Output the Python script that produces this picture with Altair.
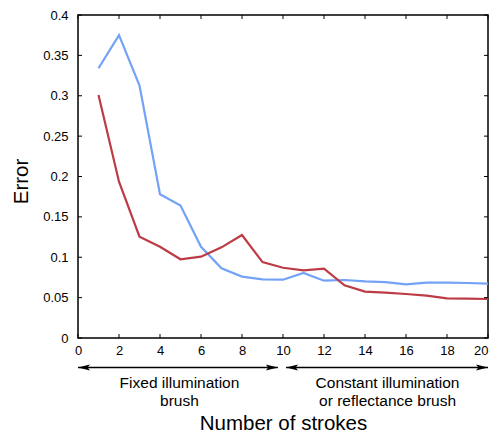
import altair as alt
import pandas as pd

# ---- data ----
strokes = list(range(1, 21))
err_blue = [0.334, 0.375, 0.3125, 0.178, 0.164, 0.113, 0.0863, 0.076, 0.0725, 0.0722,
            0.0805, 0.071, 0.0718, 0.0702, 0.0693, 0.0665, 0.0685, 0.0685, 0.0681, 0.0673]
err_red = [0.301, 0.1936, 0.1255, 0.113, 0.0975, 0.1007, 0.1123, 0.1276, 0.094, 0.087,
           0.0838, 0.0858, 0.0652, 0.0574, 0.0561, 0.0545, 0.0524, 0.0491, 0.0487, 0.0483]
series_names = ["Series A", "Series B"]
series_colors = ["#74a2f6", "#bd3b45"]

x_ticks = [0, 2, 4, 6, 8, 10, 12, 14, 16, 18, 20]
y_ticks = [0, 0.05, 0.1, 0.15, 0.2, 0.25, 0.3, 0.35, 0.4]

phase_labels = ["Fixed illumination\nbrush", "Constant illumination\nor reflectance brush"]
phase_centers = [4.95, 15.1]
arrow_start = [0.0, 10.15]
arrow_end = [9.75, 20.0]

FONT = "Liberation Sans"
W, H = 410, 323

df = pd.DataFrame({
    "strokes": strokes * 2,
    "error": err_blue + err_red,
    "series": [series_names[0]] * len(strokes) + [series_names[1]] * len(strokes),
})

xscale = alt.Scale(domain=[0, 20], nice=False, zero=False)
yscale = alt.Scale(domain=[0, 0.4], nice=False)

lines = alt.Chart(df).mark_line(strokeWidth=2.2).encode(
    x=alt.X("strokes:Q", scale=xscale,
            axis=alt.Axis(values=x_ticks, format="d", labelPadding=6, labelFlush=False,
                          labelOverlap=False,
                          labelAlign=alt.expr("datum.value >= 20 ? 'right' : 'center'"),
                          title="Number of strokes",
                          titleX=W / 2, titleY=91, titleBaseline="alphabetic",
                          titleAlign="center")),
    y=alt.Y("error:Q", scale=yscale,
            axis=alt.Axis(values=y_ticks, format=".2~f", labelPadding=10, labelFlush=False,
                          labelOverlap=False, title="Error", titleX=-51, titleY=166,
                          titleBaseline="alphabetic", titleAlign="center", titleAngle=-90)),
    color=alt.Color("series:N", scale=alt.Scale(domain=series_names, range=series_colors),
                    legend=None),
)

xt = pd.DataFrame({"strokes": x_ticks})
yt = pd.DataFrame({"error": y_ticks})

tick_style = dict(color="black", strokeWidth=1)
bottom_ticks = alt.Chart(xt).mark_rule(**tick_style).encode(
    x=alt.X("strokes:Q", scale=xscale), y=alt.value(H), y2=alt.value(H - 4))
top_ticks = alt.Chart(xt).mark_rule(**tick_style).encode(
    x=alt.X("strokes:Q", scale=xscale), y=alt.value(0), y2=alt.value(4))
left_ticks = alt.Chart(yt).mark_rule(**tick_style).encode(
    y=alt.Y("error:Q", scale=yscale), x=alt.value(0), x2=alt.value(4))
right_ticks = alt.Chart(yt).mark_rule(**tick_style).encode(
    y=alt.Y("error:Q", scale=yscale), x=alt.value(W), x2=alt.value(W - 4))

arrows_df = pd.DataFrame({"strokes": arrow_start, "strokes_end": arrow_end})
arrow_y = 352.5
arrow_lines = alt.Chart(arrows_df).mark_rule(color="black", strokeWidth=1.5).encode(
    x=alt.X("strokes:Q", scale=xscale), x2="strokes_end:Q", y=alt.value(arrow_y))
head_left = alt.Chart(arrows_df).mark_point(
    shape="M0,0 L2,-0.5 L1.6,0 L2,0.5 Z", filled=True, color="black", opacity=1, size=144
).encode(x=alt.X("strokes:Q", scale=xscale), y=alt.value(arrow_y))
head_right = alt.Chart(arrows_df).mark_point(
    shape="M0,0 L-2,-0.5 L-1.6,0 L-2,0.5 Z", filled=True, color="black", opacity=1, size=144
).encode(x=alt.X("strokes_end:Q", scale=xscale), y=alt.value(arrow_y))

labels_df = pd.DataFrame({"strokes": phase_centers, "label": phase_labels})
phase_text = alt.Chart(labels_df).mark_text(
    font=FONT, fontSize=15.5, color="black", lineBreak="\n", lineHeight=18,
    align="center", baseline="top"
).encode(x=alt.X("strokes:Q", scale=xscale), y=alt.value(361), text="label:N")

chart = alt.layer(
    lines, bottom_ticks, top_ticks, left_ticks, right_ticks,
    arrow_lines, head_left, head_right, phase_text
).properties(
    width=W, height=H,
    autosize=alt.AutoSizeParams(type="none"),
    padding={"left": 70, "top": 7, "right": 1, "bottom": 94},
).configure_view(
    stroke="black", strokeWidth=1.5
).configure_axis(
    labelFont=FONT, labelFontSize=13, labelColor="black",
    titleFont=FONT, titleFontSize=20.5, titleFontWeight="normal", titleColor="black",
    grid=False, ticks=False, tickSize=0, domain=False,
)

chart.save("out.html", embed_options={"renderer": "svg", "actions": False})
